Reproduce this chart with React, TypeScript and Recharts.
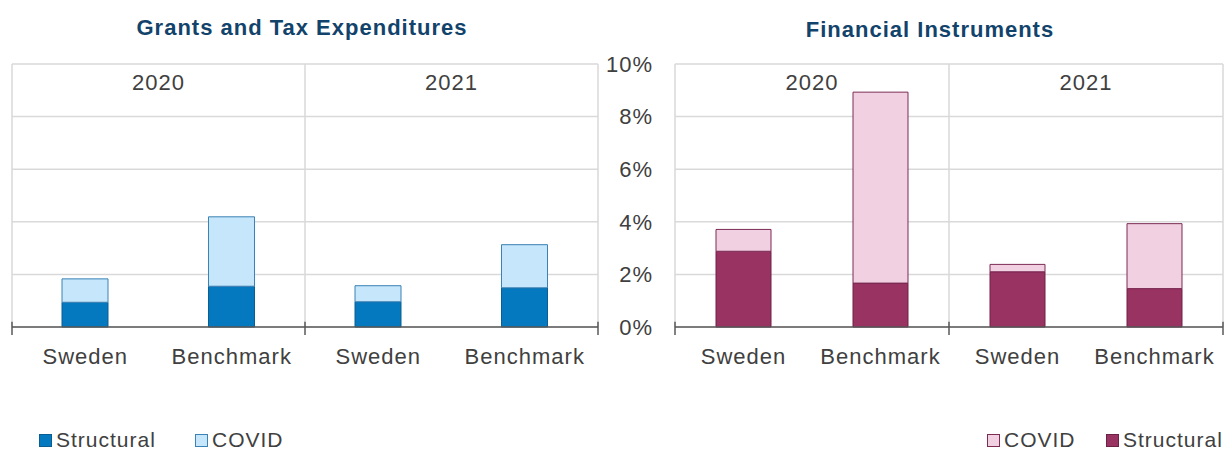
import React from 'react';
import {
  BarChart,
  Bar,
  XAxis,
  YAxis,
  CartesianGrid,
  ReferenceLine,
  ReferenceArea,
} from 'recharts';

// bar groups, left to right
const categories = ['Sweden', 'Benchmark', 'Sweden', 'Benchmark'];
const years = ['2020', '2021'];

// share of GDP, %
const grantsStructural = [0.94, 1.55, 0.96, 1.49];
const grantsCovid = [0.89, 2.64, 0.61, 1.64];
const finStructural = [2.88, 1.67, 2.1, 1.46];
const finCovid = [0.83, 7.26, 0.28, 2.47];

const yTicks = [0, 2, 4, 6, 8, 10];

const grantsData = categories.map((name, i) => ({
  pos: i + 0.5,
  name,
  structural: grantsStructural[i],
  covid: grantsCovid[i],
}));

const finData = categories.map((name, i) => ({
  pos: i + 0.5,
  name,
  structural: finStructural[i],
  covid: finCovid[i],
}));

const TEXT = '#404040';
const GRID = '#d9d9d9';
const AXIS = '#595959';
const TITLE = '#12436b';

const BLUE = { structural: '#0579c0', structuralLine: '#0b5e91', covid: '#c5e6fb', covidLine: '#3c82b4' };
const PLUM = { structural: '#983362', structuralLine: '#6e2147', covid: '#f0d0e1', covidLine: '#7d2b55' };

const catTick = (v: number) => categories[Math.floor(v)] ?? '';

function frame() {
  // box lines, year labels and the crossing ticks on the x axis
  const out: React.ReactNode[] = [];
  [0, 2, 4].forEach((x) => {
    out.push(<ReferenceLine key={`v${x}`} x={x} stroke={GRID} strokeWidth={1.5} />);
    out.push(
      <ReferenceLine
        key={`t${x}`}
        segment={[{ x, y: -0.3 }, { x, y: 0.2 }]}
        ifOverflow="visible"
        stroke={AXIS}
        strokeWidth={1.5}
      />
    );
  });
  years.forEach((yr, i) => {
    out.push(
      <ReferenceArea
        key={`y${yr}`}
        x1={i * 2}
        x2={i * 2 + 2}
        y1={8.6}
        y2={10}
        fillOpacity={0}
        strokeOpacity={0}
        label={{ value: yr, position: 'center', fill: TEXT, fontSize: 22 }}
      />
    );
  });
  return out;
}

function Panel({
  data,
  colors,
  barSize,
  showY,
  width,
  margin,
}: {
  data: typeof grantsData;
  colors: typeof BLUE;
  barSize: number;
  showY: boolean;
  width: number;
  margin: { top: number; right: number; bottom: number; left: number };
}) {
  return (
    <BarChart width={width} height={380} data={data} margin={margin}>
      <CartesianGrid vertical={false} stroke={GRID} strokeWidth={1.5} />
      <XAxis
        dataKey="pos"
        type="number"
        domain={[0, 4]}
        ticks={[0.5, 1.5, 2.5, 3.5]}
        interval={0}
        tickFormatter={catTick}
        tickLine={false}
        tickSize={0}
        tickMargin={21}
        height={40}
        axisLine={{ stroke: AXIS, strokeWidth: 1.5 }}
        tick={{ fill: TEXT, fontSize: 22 }}
      />
      <YAxis
        hide={!showY}
        domain={[0, 10]}
        ticks={yTicks}
        width={75}
        tickFormatter={(v: number) => `${v}%`}
        axisLine={false}
        tickLine={false}
        tickSize={0}
        tickMargin={22}
        tick={{ fill: TEXT, fontSize: 22 }}
      />
      {frame()}
      <Bar
        dataKey="structural"
        stackId="a"
        barSize={barSize}
        fill={colors.structural}
        stroke={colors.structuralLine}
        strokeWidth={1}
        isAnimationActive={false}
      />
      <Bar
        dataKey="covid"
        stackId="a"
        barSize={barSize}
        fill={colors.covid}
        stroke={colors.covidLine}
        strokeWidth={1}
        isAnimationActive={false}
      />
    </BarChart>
  );
}

function Swatch({ left, fill, line, label }: { left: number; fill: string; line: string; label: string }) {
  return (
    <div style={{ position: 'absolute', left, top: 429, height: 22, display: 'flex', alignItems: 'center' }}>
      <div style={{ width: 11, height: 11, background: fill, border: `1px solid ${line}`, marginRight: 4 }} />
      <span style={{ fontSize: 21, color: TEXT, lineHeight: '22px' }}>{label}</span>
    </div>
  );
}

export default function App() {
  return (
    <div
      style={{
        position: 'absolute',
        left: 0,
        top: 0,
        width: 1226,
        height: 450,
        background: '#fff',
        fontFamily: '"Liberation Sans", Arial, sans-serif',
        letterSpacing: '1px',
        overflow: 'hidden',
      }}
    >
      <div
        style={{
          position: 'absolute',
          left: 102,
          top: 17,
          width: 400,
          textAlign: 'center',
          fontSize: 22,
          lineHeight: '22px',
          fontWeight: 'bold',
          color: TITLE,
        }}
      >
        Grants and Tax Expenditures
      </div>
      <div
        style={{
          position: 'absolute',
          left: 730,
          top: 19,
          width: 400,
          textAlign: 'center',
          fontSize: 22,
          lineHeight: '22px',
          fontWeight: 'bold',
          color: TITLE,
        }}
      >
        Financial Instruments
      </div>

      <div style={{ position: 'absolute', left: 0, top: 0 }}>
        <Panel
          data={grantsData}
          colors={BLUE}
          barSize={46}
          showY={false}
          width={610}
          margin={{ top: 64, right: 12, bottom: 13, left: 12 }}
        />
      </div>
      <div style={{ position: 'absolute', left: 600, top: 0 }}>
        <Panel
          data={finData}
          colors={PLUM}
          barSize={55}
          showY={true}
          width={626}
          margin={{ top: 64, right: 3, bottom: 13, left: 0 }}
        />
      </div>

      <Swatch left={39} fill={BLUE.structural} line={BLUE.structuralLine} label="Structural" />
      <Swatch left={195} fill={BLUE.covid} line={BLUE.covidLine} label="COVID" />
      <Swatch left={987} fill={PLUM.covid} line={PLUM.covidLine} label="COVID" />
      <Swatch left={1106} fill={PLUM.structural} line={PLUM.structuralLine} label="Structural" />
    </div>
  );
}
